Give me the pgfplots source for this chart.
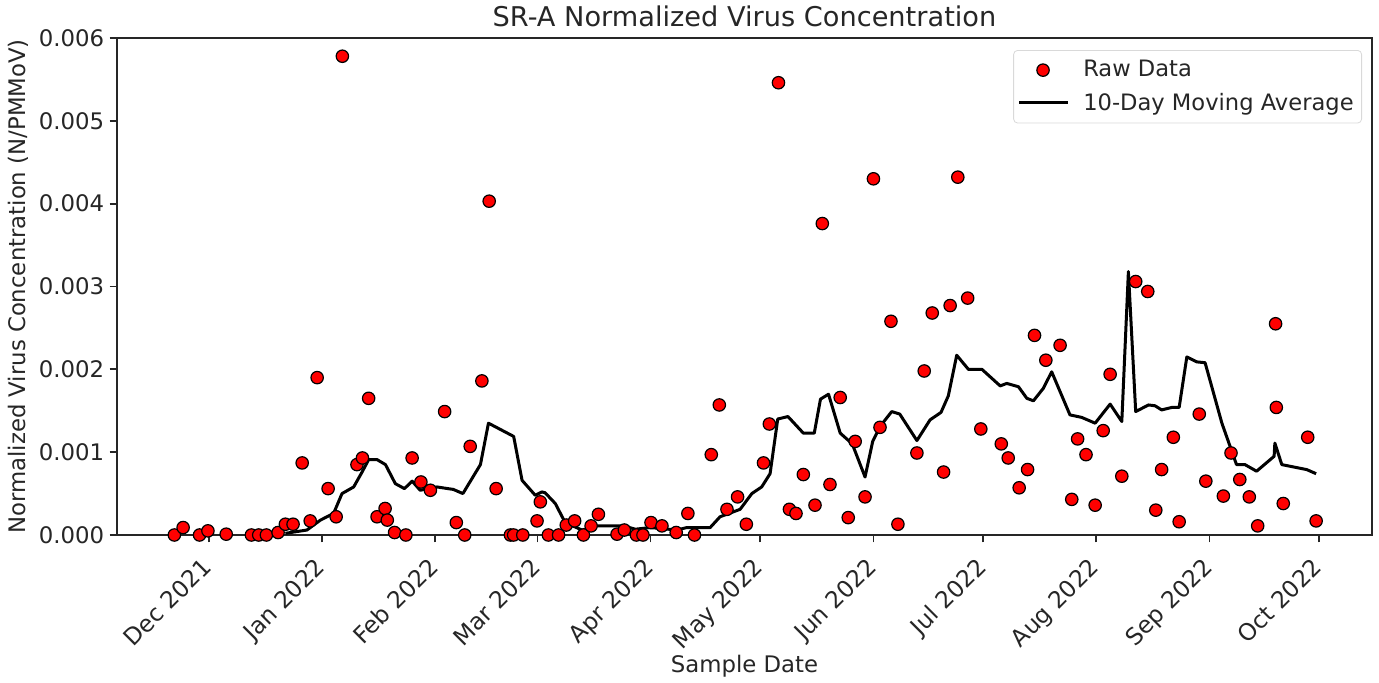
\documentclass[border=0pt]{standalone}
\usepackage{pgfplots}
\pgfplotsset{compat=1.18}
\usepackage{pgfplotstable}
\usepackage{fontspec}
\setmainfont{DejaVu Sans}
\definecolor{txt}{HTML}{262626}
\pgfplotsset{
  legline/.style={legend image code/.code={\draw[##1] (0cm,0cm) -- (0.85cm,0cm); \path (1.03cm,0cm);}},
  legmark/.style={legend image code/.code={\draw[##1] plot coordinates {(0.42cm,0cm)};}},
}

\pgfplotstableread{
x y
-9.4 0
-7.0 0.00009
-2.5 0
-0.2 0.00005
4.8 0.00001
11.7 0
13.7 0
15.8 0
19.0 0.00003
21.0 0.00013
23.1 0.00013
25.6 0.00087
27.8 0.00017
29.7 0.0019
32.7 0.00056
34.9 0.00022
36.6 0.00578
40.6 0.00085
42.1 0.00093
43.8 0.00165
46.1 0.00022
48.3 0.00032
48.9 0.00018
50.9 0.00003
54.0 0
55.7 0.00093
58.1 0.00064
60.7 0.00054
64.6 0.00149
67.8 0.00015
70.1 0
71.6 0.00107
74.8 0.00186
76.8 0.00403
78.7 0.00056
82.6 0
83.5 0
86.0 0
89.9 0.00017
90.8 0.0004
93.0 0
95.8 0
97.9 0.00012
100.2 0.00017
102.6 0
104.7 0.00011
106.7 0.00025
111.8 0.00001
113.8 0.00006
117.1 0
118.9 0
121.1 0.00015
124.1 0.00011
128.0 0.00003
131.2 0.00026
133.0 0
137.6 0.00097
139.8 0.00157
141.9 0.00031
144.8 0.00046
147.2 0.00013
151.9 0.00087
153.5 0.00134
156.0 0.00546
159.0 0.00031
160.8 0.00026
162.8 0.00073
166.0 0.00036
168.0 0.00376
170.1 0.00061
172.9 0.00166
175.1 0.00021
177.0 0.00113
179.7 0.00046
182.0 0.0043
183.8 0.0013
186.8 0.00258
188.7 0.00013
193.9 0.00099
195.9 0.00198
198.1 0.00268
201.2 0.00076
203.0 0.00277
205.1 0.00432
207.8 0.00286
211.4 0.00128
217.0 0.0011
218.9 0.00093
221.9 0.00057
224.2 0.00079
226.1 0.00241
229.2 0.00211
233.1 0.00229
236.3 0.00043
237.9 0.00116
240.2 0.00097
242.7 0.00036
244.9 0.00126
246.8 0.00194
250.0 0.00071
253.8 0.00306
257.1 0.00294
259.3 0.0003
260.9 0.00079
264.1 0.00118
265.7 0.00016
271.2 0.00146
273.0 0.00065
277.8 0.00047
279.9 0.00099
282.3 0.00067
284.9 0.00046
287.2 0.00011
292.1 0.00255
292.3 0.00154
294.2 0.00038
300.9 0.00118
303.2 0.00017
}\rawdata

\pgfplotstableread{
x y
21.0 0.00002
26.9 0.00006
30.6 0.00018
34.2 0.00026
36.5 0.0005
39.7 0.00058
42.0 0.00076
43.8 0.00091
46.1 0.00091
48.4 0.00085
51.1 0.00062
53.6 0.00056
55.7 0.00065
57.9 0.00054
62.5 0.00058
67.0 0.00055
69.6 0.0005
74.4 0.00085
76.6 0.00135
83.5 0.00119
85.8 0.00066
89.4 0.00048
91.2 0.00052
92.1 0.00051
94.9 0.00038
97.6 0.00015
102.2 0.00006
106.3 0.00011
113.6 0.00011
116.8 0.00007
120.9 0.00009
128.2 0.00006
130.9 0.00009
137.3 0.00009
140.0 0.00022
145.5 0.00031
148.7 0.0005
151.4 0.00058
153.7 0.00074
155.8 0.0014
158.6 0.00143
162.8 0.00123
165.8 0.00123
167.5 0.00164
169.7 0.00170
172.9 0.00123
176.2 0.0011
179.7 0.0007
181.8 0.00113
183.8 0.00131
187.0 0.00149
189.2 0.00146
193.9 0.00114
197.5 0.00139
200.5 0.00148
202.5 0.00168
204.8 0.00217
208.0 0.0020
211.7 0.0020
216.7 0.0018
218.5 0.00183
221.7 0.00179
224.0 0.00165
225.8 0.00162
228.5 0.00177
230.8 0.00197
235.8 0.00145
239.0 0.00142
242.7 0.00135
246.8 0.00158
250.0 0.00137
251.8 0.00318
253.8 0.00149
257.3 0.00157
259.1 0.00156
260.9 0.00151
263.7 0.00154
265.7 0.00154
267.8 0.00215
270.5 0.00209
272.8 0.00208
277.4 0.00135
281.4 0.00085
283.7 0.00085
286.9 0.00077
291.7 0.00095
291.9 0.00111
293.8 0.00085
300.6 0.00079
303.2 0.00074
}\madata

\begin{document}
\begin{tikzpicture}
\path[use as bounding box] (-58.5pt,-74pt) rectangle (631pt,267.5pt);
\begin{axis}[
  at={(0pt,0pt)}, anchor=south west,
  scale only axis,
  width=627.5pt, height=248.5pt,
  xmin=-25.1, xmax=318.5,
  ymin=0, ymax=0.006,
  axis line style={line width=0.85pt, black!85},
  every tick/.style={line width=0.85pt, black!85},
  major tick length=3.7pt,
  tick align=outside,
  tick pos=left,
  xtick={0,31,62,90,121,151,182,212,243,274,304},
  xticklabels={Dec 2021,Jan 2022,Feb 2022,Mar 2022,Apr 2022,May 2022,Jun 2022,Jul 2022,Aug 2022,Sep 2022,Oct 2022},
  ytick={0,0.001,0.002,0.003,0.004,0.005,0.006},
  scaled y ticks=false,
  yticklabel style={/pgf/number format/fixed, /pgf/number format/fixed zerofill, /pgf/number format/precision=3, /pgf/number format/assume math mode=true, inner sep=2.5pt},
  ticklabel style={font=\fontsize{11.4}{13}\selectfont, color=txt},
  xticklabel style={xshift=-4pt, yshift=-4.5pt, rotate=45, anchor=north east, inner sep=1.5pt, font=\fontsize{11.7}{13}\selectfont},
  label style={font=\fontsize{11.4}{13}\selectfont, color=txt},
  xlabel={Sample Date},
  xlabel style={at={(axis description cs:0.5,-0.264)}, anchor=center},
  ylabel={Normalized Virus Concentration (N/PMMoV)},
  ylabel style={at={(axis description cs:-0.0789,0.5)}, anchor=center},
  title={SR-A Normalized Virus Concentration},
  title style={at={(axis description cs:0.5,1.0201)}, anchor=center, font=\fontsize{13.6}{16}\selectfont, color=txt},
  legend style={at={(axis description cs:1,1)}, anchor=north east, xshift=-5pt, yshift=-6pt,
    draw=black!15, rounded corners=2pt, font=\fontsize{11.3}{13}\selectfont, text=txt,
    row sep=2.5pt, inner xsep=2pt, inner ysep=3pt},
  legend cell align=left,
]
\addplot[only marks, mark=*, mark size=3.1pt, mark options={fill=red, draw=black, line width=0.6pt}, legmark]
  table[x=x, y=y] {\rawdata};
\addlegendentry{Raw Data}
\addplot[black, line width=1.5pt, line join=round, mark=none, legline]
  table[x=x, y=y] {\madata};
\addlegendentry{10-Day Moving Average}
\end{axis}
\end{tikzpicture}
\end{document}
